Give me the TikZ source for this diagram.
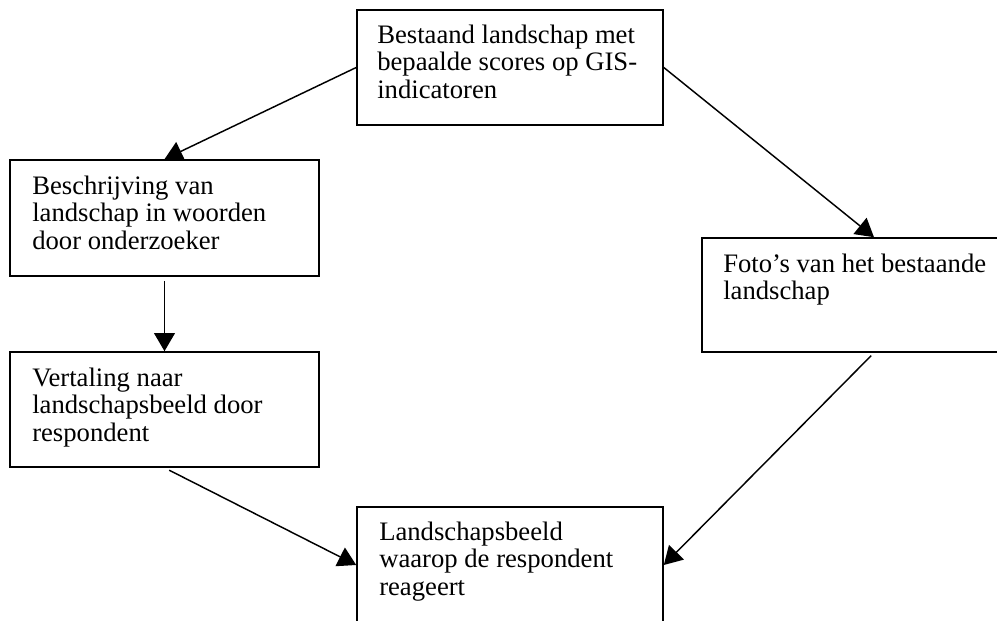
\documentclass[tikz,border=0pt]{standalone}
\usepackage{fontspec}
\setmainfont{Liberation Serif}
\usetikzlibrary{arrows.meta}
\begin{document}
\begin{tikzpicture}[x=0.75pt,y=-0.75pt,
  boxnode/.style={draw=black,line width=1.2pt,rectangle,inner sep=0pt,fill=white},
  txt/.style={anchor=base west,inner sep=0pt,align=left,font=\fontsize{20}{20.6}\selectfont},
  arr/.style={draw=black,line width=1.1pt,-{Triangle[length=13.5pt,width=15.5pt]}}]
\useasboundingbox (0,0) rectangle (997,621);
\clip (0,0) rectangle (997,621);
\fill[white] (0,0) rectangle (997,621);
% boxes
\node[boxnode,minimum width=229.5pt,minimum height=86.25pt] (top) at (510,67.5) {};
\node[boxnode,minimum width=231.75pt,minimum height=87pt] (l1) at (164.5,218) {};
\node[boxnode,minimum width=231.75pt,minimum height=86.25pt] (l2) at (164.5,409.5) {};
\node[boxnode,minimum width=258pt,minimum height=85.5pt] (r) at (874,295) {};
\node[boxnode,minimum width=229.5pt,minimum height=87pt] (bot) at (510,565) {};
% texts (anchored at the baseline of the last line)
\node[txt] (ttop) at (377,98) {Bestaand landschap met\\bepaalde scores op GIS-\\indicatoren};
\node[txt] (tl1) at (32,249) {Beschrijving van\\landschap in woorden\\door onderzoeker};
\node[txt] (tl2) at (32,441) {Vertaling naar\\landschapsbeeld door\\respondent};
\node[txt] (tr) at (723,299.5) {Foto’s van het bestaande\\landschap};
\node[txt] (tbot) at (379,595) {Landschapsbeeld\\waarop de respondent\\reageert};
% connectors
\draw[arr] (top.west) -- (l1.north);
\draw[arr] (top.east) -- (r.north);
\draw[arr,shorten <=3pt] (l1.south) -- (l2.north);
\draw[arr,shorten <=4pt] (l2.south) -- (bot.west);
\draw[arr,shorten <=3pt] (r.south) -- (bot.east);
\end{tikzpicture}
\end{document}
